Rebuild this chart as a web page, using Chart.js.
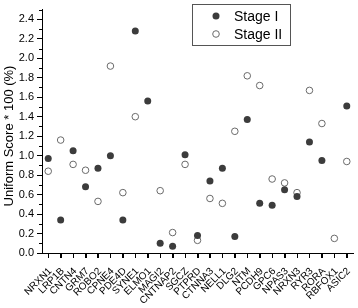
<!DOCTYPE html>
<html>
<head>
<meta charset="utf-8">
<script src="https://cdn.jsdelivr.net/npm/chart.js@4.4.1/dist/chart.umd.min.js"></script>
<style>
  body { margin: 0; background: #fff; }
  canvas { display: block; }
</style>
</head>
<body>
<canvas id="myChart" width="358" height="308"></canvas>
<script>
// genes on the x axis
const genes = ['NRXN1', 'LRP1B', 'CNTN4', 'GRM7', 'ROBO2', 'CPNE4', 'PDE4D', 'SYNE1', 'ELMO1', 'MAGI2',
    'CNTNAP2', 'SGCZ', 'PTPRD', 'CTNNA3', 'NELL1', 'DLG2', 'NTM', 'PCDH9', 'GPC6', 'NPAS3',
    'NRXN3', 'RYR3', 'RORA', 'RBFOX1', 'ASIC2'];

const stage1 = [0.97, 0.34, 1.05, 0.68, 0.87, 1.00, 0.34, 2.28, 1.56, 0.10,
    0.07, 1.01, 0.18, 0.74, 0.87, 0.17, 1.37, 0.51, 0.49, 0.65,
    0.58, 1.14, 0.95, null, 1.51];

const stage2 = [0.84, 1.16, 0.91, 0.85, 0.53, 1.92, 0.62, 1.40, null, 0.64,
    0.21, 0.91, 0.13, 0.56, 0.51, 1.25, 1.82, 1.72, 0.76, 0.72,
    0.62, 1.67, 1.33, 0.15, 0.94];

const yMajorStep = 0.2;
const yMax = 2.5;
const yTitle = 'Uniform Score * 100 (%)';

const font = 'Liberation Sans, Arial, sans-serif';

// tick marks, axis title and slanted gene labels
const axisExtras = {
    id: 'axisExtras',
    afterDraw(chart) {
        let y = chart.scales.y;
        let x = chart.scales.x;
        let c = chart.ctx;
        c.save();
        c.strokeStyle = '#000';
        c.lineWidth = 1;
        // y: short ticks between the labelled ones
        for (let v = 0.1; v <= yMax + 0.001; v += 0.2) {
            let py = Math.round(y.getPixelForValue(v)) + 0.5;
            c.beginPath();
            c.moveTo(y.right - 3, py);
            c.lineTo(y.right, py);
            c.stroke();
        }
        // x: one tick per gene
        x.ticks.forEach((t, i) => {
            let px = Math.round(x.getPixelForTick(i)) + 0.5;
            c.beginPath();
            c.moveTo(px, x.top);
            c.lineTo(px, x.top + 5);
            c.stroke();
        });

        c.fillStyle = '#000';
        c.font = '10px ' + font;
        c.textAlign = 'right';
        c.textBaseline = 'top';
        x.ticks.forEach((t, i) => {
            c.save();
            c.translate(x.getPixelForTick(i) - 1.5, x.top + 13);
            c.rotate(-Math.PI / 4);
            c.fillText(x.getLabelForValue(t.value), 0, 0);
            c.restore();
        });

        c.translate(9, 136);
        c.rotate(-Math.PI / 2);
        c.font = '13px ' + font;
        c.textAlign = 'center';
        c.textBaseline = 'middle';
        c.fillText(yTitle, 0, 0);
        c.restore();
    }
};

// boxed legend inside the plot
const boxLegend = {
    id: 'boxLegend',
    afterDraw(chart) {
        let c = chart.ctx;
        c.save();
        c.strokeStyle = '#555';
        c.lineWidth = 1;
        c.strokeRect(192.5, 4.5, 98, 41);
        c.font = '14px ' + font;
        c.fillStyle = '#000';
        c.textBaseline = 'middle';
        let rows = [16, 34];
        chart.data.datasets.forEach((ds, i) => {
            c.beginPath();
            c.arc(216, rows[i], ds.pointRadius, 0, Math.PI * 2);
            c.fillStyle = ds.pointBackgroundColor;
            c.fill();
            if (ds.pointBorderWidth) {
                c.strokeStyle = ds.pointBorderColor;
                c.lineWidth = ds.pointBorderWidth;
                c.stroke();
            }
            c.fillStyle = '#000';
            c.fillText(ds.label, 234, rows[i] + 1);
        });
        c.restore();
    }
};

const ctx = document.getElementById('myChart');

new Chart(ctx, {
    type: 'line',
    data: {
        labels: genes,
        datasets: [{
            label: 'Stage I',
            data: stage1,
            showLine: false,
            pointRadius: 3.5,
            pointBackgroundColor: '#3c3c3c',
            pointBorderColor: '#3c3c3c',
            pointBorderWidth: 0
        }, {
            label: 'Stage II',
            data: stage2,
            showLine: false,
            pointRadius: 3.3,
            pointBackgroundColor: '#ffffff',
            pointBorderColor: '#6a6a6a',
            pointBorderWidth: 1
        }]
    },
    options: {
        responsive: false,
        animation: false,
        layout: { padding: { top: 3, right: 3, left: 0, bottom: 0 } },
        plugins: {
            legend: { display: false },
            tooltip: { enabled: false }
        },
        scales: {
            x: {
                type: 'category',
                offset: true,
                afterFit: (s) => { s.height = 55; },
                grid: { display: true, drawOnChartArea: false, offset: false, tickLength: 5, color: '#000' },
                border: { color: '#000', width: 1 },
                ticks: { autoSkip: false, display: false }
            },
            y: {
                min: 0,
                max: yMax,
                afterFit: (s) => { s.width = 42; },
                grid: { display: true, drawOnChartArea: false, tickLength: 5, color: '#000' },
                border: { color: '#000', width: 1 },
                ticks: {
                    stepSize: yMajorStep,
                    includeBounds: false,
                    padding: 3,
                    color: '#000',
                    font: { family: font, size: 11 },
                    callback: (v) => v.toFixed(1)
                }
            }
        }
    },
    plugins: [axisExtras, boxLegend]
});
</script>
</body>
</html>
